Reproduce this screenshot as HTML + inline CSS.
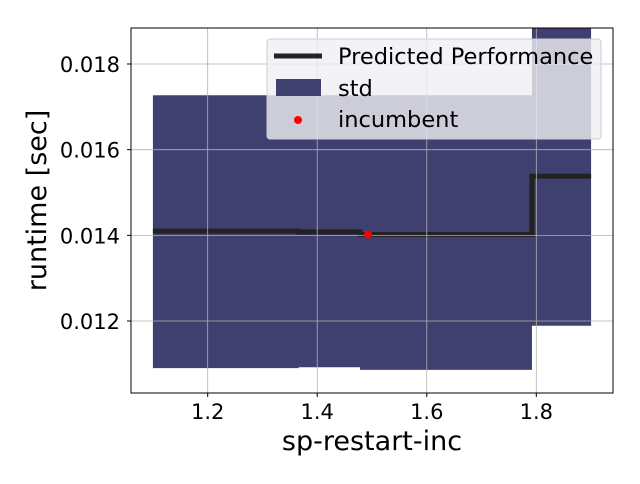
<!DOCTYPE html>
<html><head><meta charset="utf-8"><style>
body{margin:0;background:#fff;font-family:"DejaVu Sans","Liberation Sans",sans-serif}
</style></head><body>
<svg id="c" width="640" height="480" xmlns="http://www.w3.org/2000/svg" font-family="DejaVu Sans, Liberation Sans, sans-serif"></svg>
<script>
const edges=[1.1,1.366,1.478,1.792,1.9];
const meanVals=[0.0141,0.01408,0.01402,0.01538];
const upperVals=[0.01727,0.01727,0.01727,0.0195];
const lowerVals=[0.0109,0.01092,0.01086,0.01189];
const incumbent=[1.493,0.01402];
const xTicks=[1.2,1.4,1.6,1.8];
const yTicks=[0.012,0.014,0.016,0.018];
const L=131,R=613,T=28,B=393,x0=1.06,x1=1.94,y0=0.01032,y1=0.01884;
const X=v=>L+(v-x0)/(x1-x0)*(R-L);
const Y=v=>B-(v-y0)/(y1-y0)*(B-T);
const s=document.getElementById('c');const NS='http://www.w3.org/2000/svg';
function mk(t,a,p){const e=document.createElementNS(NS,t);for(const k in a)e.setAttribute(k,a[k]);(p||s).appendChild(e);return e;}
const defs=mk('defs',{});const cp=mk('clipPath',{id:'clip'},defs);mk('rect',{x:L,y:T,width:R-L,height:B-T},cp);
const g=mk('g',{'clip-path':'url(#clip)'});
let d='';
for(let i=0;i<meanVals.length;i++){d+=(i?'L':'M')+X(edges[i])+','+Y(upperVals[i])+'L'+X(edges[i+1])+','+Y(upperVals[i]);}
for(let i=meanVals.length-1;i>=0;i--){d+='L'+X(edges[i+1])+','+Y(lowerVals[i])+'L'+X(edges[i])+','+Y(lowerVals[i]);}
const band=mk('path',{d:d+'Z',fill:'#404070'},g);

xTicks.forEach(v=>{const l=mk('line',{x1:X(v),x2:X(v),y1:T,y2:B,stroke:'#b0b0b0','stroke-width':0.8});});
yTicks.forEach(v=>{const l=mk('line',{x1:L,x2:R,y1:Y(v),y2:Y(v),stroke:'#b0b0b0','stroke-width':0.8});});
let m='';
for(let i=0;i<meanVals.length;i++){m+=(i?'L':'M')+X(edges[i])+','+Y(meanVals[i])+'L'+X(edges[i+1])+','+Y(meanVals[i]);}
const ml=mk('path',{d:m,fill:'none',stroke:'#222','stroke-width':5},g);

const inc=mk('circle',{cx:X(incumbent[0]),cy:Y(incumbent[1]),r:4,fill:'#ff0000'});

const fr=mk('rect',{x:L,y:T,width:R-L,height:B-T,fill:'none',stroke:'#000','stroke-width':1});

xTicks.forEach(v=>{mk('line',{x1:X(v),x2:X(v),y1:B,y2:B+4,stroke:'#000'});const t=mk('text',{x:X(v),y:B+26,'text-anchor':'middle','font-size':21});t.textContent=v.toFixed(1);});
yTicks.forEach(v=>{mk('line',{x1:L-4,x2:L,y1:Y(v),y2:Y(v),stroke:'#000'});const t=mk('text',{x:L-11,y:Y(v)+8,'text-anchor':'end','font-size':21});t.textContent=v.toFixed(3);});
const xt=mk('text',{x:(L+R)/2,y:450,'text-anchor':'middle','font-size':27});xt.textContent='sp-restart-inc';
const yt=mk('text',{x:0,y:0,'text-anchor':'middle','font-size':27,transform:'translate(46,'+((T+B)/2-10)+') rotate(-90)'});yt.textContent='runtime [sec]';
const lg=mk('g',{});
mk('rect',{x:267,y:39,width:334,height:100,rx:3,fill:'#f0f0f5','fill-opacity':0.8,stroke:'#ccc'},lg);
mk('line',{x1:274,x2:322,y1:56,y2:56,stroke:'#222','stroke-width':5},lg);
mk('rect',{x:276,y:79,width:45,height:17,fill:'#404070'},lg);
mk('circle',{cx:298,cy:120,r:4,fill:'#ff0000'},lg);
[['Predicted Performance',64],['std',96],['incumbent',127]].forEach(a=>{const t=mk('text',{x:338,y:a[1],'font-size':22.5},lg);t.textContent=a[0];});
</script>
</body></html>
